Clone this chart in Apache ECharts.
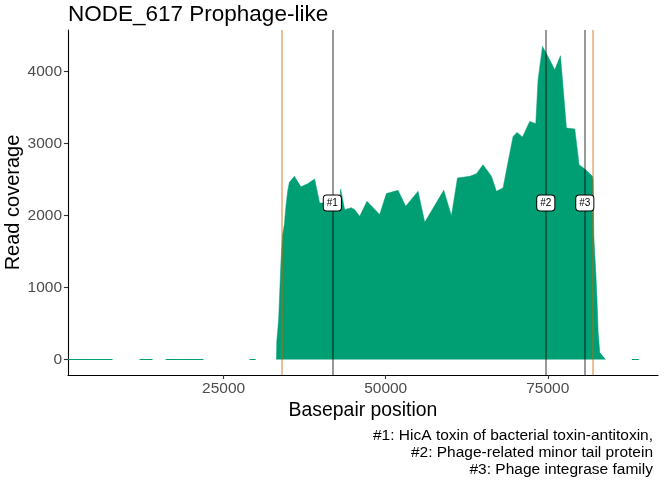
<!DOCTYPE html>
<html lang="en">
<head>
    <meta charset="UTF-8">
    <title>NODE_617 Prophage-like</title>
    <script src="https://cdn.jsdelivr.net/npm/echarts@6/dist/echarts.min.js"></script>
    <style>
        html, body {
            margin: 0;
            height: 100%;
            width: 100%;
            overflow: hidden;
            background: #fff;
        }
    </style>
</head>
<body>
<div id="chart" style="width: 672px;height: 480px;"></div>
<script>
    // coverage profile of the prophage region (bp, reads)
    var covPos = [33150, 33200, 33490, 33600, 33840, 34100, 34370, 34610, 34880, 35140, 35910,
        36930, 37960, 39040, 39810, 40590, 41600, 42900, 43050, 43670, 44710, 45220, 45990,
        47110, 49070, 50110, 51900, 53090, 54990, 56020, 58950, 60140, 61070, 62960,
        64000, 65010, 66310, 67080, 68100, 68880, 69650, 70260, 71100, 72220, 73150,
        73500, 74180, 74890, 76080, 76960, 77880, 79170, 79830, 80710, 81900, 81990,
        82100, 82260, 82410, 82610, 82770, 83020, 83900];
    var covVal = [0, 250, 555, 810, 1345, 1736, 1875, 2130, 2338, 2463, 2546,
        2400, 2444, 2509, 2176, 2176, 2180, 2150, 2370, 2083, 2111, 2083, 1990,
        2199, 2014, 2306, 2352, 2130, 2338, 1907, 2352, 2000, 2523, 2546,
        2583, 2708, 2546, 2338, 2384, 2750, 3101, 3157, 3093, 3310, 3278,
        3890, 4352, 4236, 4028, 4222, 3218, 3204, 2708, 2648, 2546, 2500,
        1713, 1435, 1208, 790, 375, 97, 0];
    // stretches reported with zero coverage
    var zeroRuns = [[1000, 7870], [12040, 14040], [16050, 21900], [29000, 29940], [87960, 89040]];

    // annotated genes
    var geneNames = ['#1', '#2', '#3'];
    var genePos = [41770, 74690, 80710];
    var labelY = 2176;
    // prophage boundaries
    var bounds = [33950, 81900];

    var xTicks = [25000, 50000, 75000];
    var yTicks = [0, 1000, 2000, 3000, 4000];

    var captionLines = [
        '#1: HicA toxin of bacterial toxin-antitoxin,',
        '#2: Phage-related minor tail protein',
        '#3: Phage integrase family'
    ];

    var font = 'Liberation Sans, Arial, sans-serif';
    var green = '#009E73';

    var areaData = covPos.map(function (p, i) {
        return [p, covVal[i]];
    });
    var zeroData = [];
    zeroRuns.forEach(function (r, i) {
        if (i > 0) zeroData.push([r[0] - 1, '-']);
        zeroData.push([r[0], 0], [r[1], 0]);
    });

    var marks = genePos.map(function (p) {
        return {xAxis: p, lineStyle: {color: 'rgba(0,0,0,0.5)', width: 1.6, type: 'solid'}};
    }).concat(bounds.map(function (p) {
        return {xAxis: p, lineStyle: {color: 'rgba(213,94,0,0.5)', width: 1.6, type: 'solid'}};
    }));

    function plain(v) {
        return String(v);
    }

    var chart = echarts.init(document.getElementById('chart'));
    chart.setOption({
        animation: false,
        title: {
            text: 'NODE_617 Prophage-like',
            left: 63,
            top: -2,
            textStyle: {fontFamily: font, fontSize: 22.5, fontWeight: 'normal', color: '#000'}
        },
        grid: {left: 68, right: 14, top: 30, bottom: 105, containLabel: false, outerBoundsMode: 'none'},
        xAxis: {
            type: 'value',
            min: 1000,
            max: 92000,
            name: 'Basepair position',
            nameLocation: 'middle',
            nameGap: 26,
            nameMoveOverlap: false,
            nameTextStyle: {fontFamily: font, fontSize: 19.4, color: '#000'},
            splitLine: {show: false},
            axisLine: {onZero: false, lineStyle: {color: '#000', width: 1.1}},
            axisTick: {customValues: xTicks, length: 4, lineStyle: {color: '#333', width: 1.1}},
            axisLabel: {customValues: xTicks, formatter: plain, margin: 6, fontFamily: font, fontSize: 15.5, color: '#4d4d4d'}
        },
        yAxis: {
            type: 'value',
            min: -215,
            max: 4580,
            name: 'Read coverage',
            nameLocation: 'middle',
            nameGap: 45,
            nameMoveOverlap: false,
            nameTextStyle: {fontFamily: font, fontSize: 20, color: '#000'},
            splitLine: {show: false},
            axisLine: {show: true, onZero: false, lineStyle: {color: '#000', width: 1.1}},
            axisTick: {show: true, customValues: yTicks, length: 4, lineStyle: {color: '#333', width: 1.1}},
            axisLabel: {customValues: yTicks, formatter: plain, margin: 6, fontFamily: font, fontSize: 15.5, color: '#4d4d4d'}
        },
        graphic: captionLines.map(function (t, i) {
            return {
                type: 'text',
                right: 19,
                top: 428 + i * 17,
                style: {text: t, font: '15.5px ' + font, fill: '#000'}
            };
        }),
        series: [{
            type: 'line',
            data: areaData,
            symbol: 'none',
            lineStyle: {width: 0.5, color: green},
            areaStyle: {color: green, opacity: 1},
            z: 2
        }, {
            type: 'line',
            data: zeroData,
            symbol: 'none',
            connectNulls: false,
            lineStyle: {width: 1.1, color: green},
            z: 2,
            markLine: {
                silent: true,
                symbol: ['none', 'none'],
                label: {show: false},
                data: marks
            }
        }, {
            type: 'scatter',
            data: genePos.map(function (p, i) {
                return [p, labelY, geneNames[i]];
            }),
            symbolSize: 0,
            itemStyle: {color: '#fff', opacity: 1},
            z: 10,
            label: {
                show: true,
                position: 'inside',
                formatter: function (p) {
                    return p.value[2];
                },
                fontFamily: font,
                fontSize: 10,
                color: '#000',
                opacity: 1,
                backgroundColor: '#fff',
                borderColor: '#000',
                borderWidth: 1,
                borderRadius: 3,
                padding: [3, 3, 2, 3]
            }
        }]
    });
</script>
</body>
</html>
